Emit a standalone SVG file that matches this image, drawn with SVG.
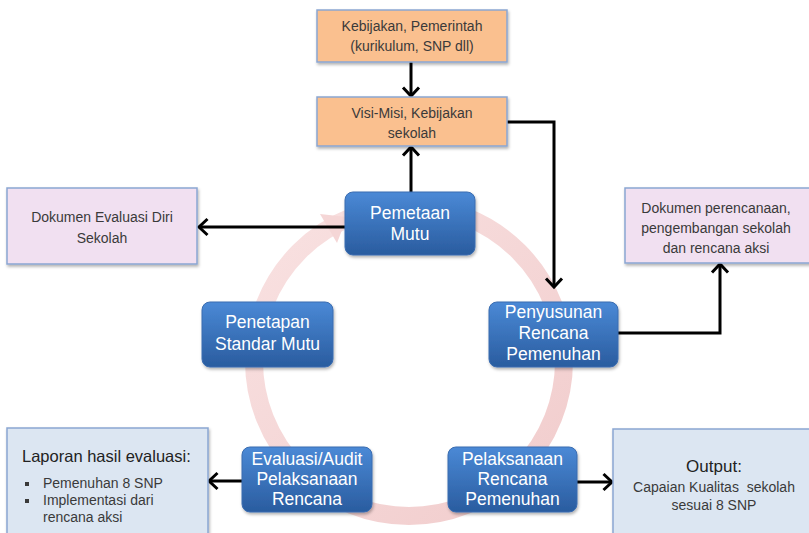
<svg xmlns="http://www.w3.org/2000/svg" width="809" height="533" viewBox="0 0 809 533">
  <defs>
    <linearGradient id="blueFill" x1="0" y1="0" x2="0" y2="1">
      <stop offset="0" stop-color="#4a89d6"/>
      <stop offset="1" stop-color="#2a5c9f"/>
    </linearGradient>
    <linearGradient id="ringFill" gradientUnits="userSpaceOnUse" x1="250" y1="200" x2="560" y2="520">
      <stop offset="0" stop-color="#f9e2e2"/>
      <stop offset="1" stop-color="#f1cccc"/>
    </linearGradient>
    <filter id="shadow" x="-10%" y="-10%" width="130%" height="140%">
      <feDropShadow dx="1" dy="2" stdDeviation="1.5" flood-color="#000" flood-opacity="0.3"/>
    </filter>
    <marker id="arrow" markerUnits="userSpaceOnUse" markerWidth="14" markerHeight="20" refX="10" refY="9" orient="auto" overflow="visible">
      <path d="M1.5,1 L10,9 L1.5,17" fill="none" stroke="#000" stroke-width="3"/>
    </marker>
  </defs>
  <style>
    .orange { fill: #fac08f; stroke: #8aa6d2; stroke-width: 1.5; }
    .pink { fill: #f1e0f1; stroke: #8aa6d2; stroke-width: 1.5; }
    .lblue { fill: #dce6f2; stroke: #8aa6d2; stroke-width: 1.5; }
    .blue { fill: url(#blueFill); stroke: #3a6cb0; stroke-width: 1; }
    .txt { font-family: "Liberation Sans", Arial, sans-serif; font-size: 14px; fill: #3a3a3a; text-anchor: middle; white-space: pre; }
    .wtxt { font-family: "Liberation Sans", Arial, sans-serif; font-size: 17.5px; fill: #ffffff; text-anchor: middle; }
    .conn { fill: none; stroke: #000; stroke-width: 3; }
  </style>

  <!-- cycle ring -->
  <g id="cycle">
    <circle cx="409" cy="361" r="155" fill="none" stroke="url(#ringFill)" stroke-width="18"/>
    <polygon points="320,214 347,217 337,243" fill="#f5d6d6"/>
  </g>

  <!-- connectors -->
  <g id="connectors">
    <line class="conn" x1="411" y1="62" x2="411" y2="96" marker-end="url(#arrow)"/>
    <line class="conn" x1="411" y1="192" x2="411" y2="147" marker-end="url(#arrow)"/>
    <polyline class="conn" points="507,122 554,122 554,287" marker-end="url(#arrow)"/>
    <line class="conn" x1="345" y1="227" x2="199" y2="227" marker-end="url(#arrow)"/>
    <polyline class="conn" points="618,333 720,333 720,264" marker-end="url(#arrow)"/>
    <line class="conn" x1="242" y1="481" x2="209" y2="481" marker-end="url(#arrow)"/>
    <line class="conn" x1="577" y1="482" x2="612" y2="482" marker-end="url(#arrow)"/>
  </g>

  <g id="kebijakan-pemerintah">
    <rect class="orange" x="317" y="10" width="190" height="52" filter="url(#shadow)"/>
    <text class="txt" x="412" y="31">Kebijakan, Pemerintah</text>
    <text class="txt" x="412" y="51">(kurikulum, SNP dll)</text>
  </g>

  <g id="visi-misi">
    <rect class="orange" x="317" y="97" width="190" height="49" filter="url(#shadow)"/>
    <text class="txt" x="412" y="118">Visi-Misi, Kebijakan</text>
    <text class="txt" x="412" y="138">sekolah</text>
  </g>

  <g id="dokumen-evaluasi">
    <rect class="pink" x="7" y="188" width="190" height="76" filter="url(#shadow)"/>
    <text class="txt" x="102" y="222">Dokumen Evaluasi Diri</text>
    <text class="txt" x="102" y="243">Sekolah</text>
  </g>

  <g id="dokumen-perencanaan">
    <rect class="pink" x="625" y="188" width="190" height="75" filter="url(#shadow)"/>
    <text class="txt" x="716" y="213">Dokumen perencanaan,</text>
    <text class="txt" x="716" y="233">pengembangan sekolah</text>
    <text class="txt" x="716" y="253">dan rencana aksi</text>
  </g>

  <g id="pemetaan-mutu">
    <rect class="blue" x="345" y="192" width="130" height="63" rx="8" filter="url(#shadow)"/>
    <text class="wtxt" x="410" y="219">Pemetaan</text>
    <text class="wtxt" x="410" y="240">Mutu</text>
  </g>

  <g id="penetapan-standar">
    <rect class="blue" x="202" y="302" width="131" height="65" rx="8" filter="url(#shadow)"/>
    <text class="wtxt" x="267.5" y="328">Penetapan</text>
    <text class="wtxt" x="267.5" y="350">Standar Mutu</text>
  </g>

  <g id="penyusunan-rencana">
    <rect class="blue" x="489" y="302" width="129" height="65" rx="8" filter="url(#shadow)"/>
    <text class="wtxt" x="553.5" y="318">Penyusunan</text>
    <text class="wtxt" x="553.5" y="339">Rencana</text>
    <text class="wtxt" x="553.5" y="360">Pemenuhan</text>
  </g>

  <g id="evaluasi-audit">
    <rect class="blue" x="242" y="447" width="130" height="65" rx="8" filter="url(#shadow)"/>
    <text class="wtxt" x="307" y="465">Evaluasi/Audit</text>
    <text class="wtxt" x="307" y="485">Pelaksanaan</text>
    <text class="wtxt" x="307" y="505">Rencana</text>
  </g>

  <g id="pelaksanaan-rencana">
    <rect class="blue" x="448" y="447" width="129" height="65" rx="8" filter="url(#shadow)"/>
    <text class="wtxt" x="512.5" y="465">Pelaksanaan</text>
    <text class="wtxt" x="512.5" y="485">Rencana</text>
    <text class="wtxt" x="512.5" y="505">Pemenuhan</text>
  </g>

  <g id="laporan-evaluasi">
    <rect class="lblue" x="7" y="428" width="201" height="115" filter="url(#shadow)"/>
    <text class="txt" x="22" y="462" style="text-anchor:start;font-size:16.5px;fill:#222">Laporan hasil evaluasi:</text>
    <rect x="25" y="482" width="4" height="4" fill="#3a3a3a"/>
    <text class="txt" x="43" y="488" style="text-anchor:start">Pemenuhan 8 SNP</text>
    <rect x="25" y="499" width="4" height="4" fill="#3a3a3a"/>
    <text class="txt" x="43" y="505" style="text-anchor:start">Implementasi dari</text>
    <text class="txt" x="43" y="522" style="text-anchor:start">rencana aksi</text>
  </g>

  <g id="output">
    <rect class="lblue" x="613" y="429" width="205" height="115" filter="url(#shadow)"/>
    <text class="txt" x="714" y="472" style="font-size:17px;fill:#222">Output:</text>
    <text class="txt" x="714" y="492">Capaian Kualitas  sekolah</text>
    <text class="txt" x="714" y="510">sesuai 8 SNP</text>
  </g>
</svg>
